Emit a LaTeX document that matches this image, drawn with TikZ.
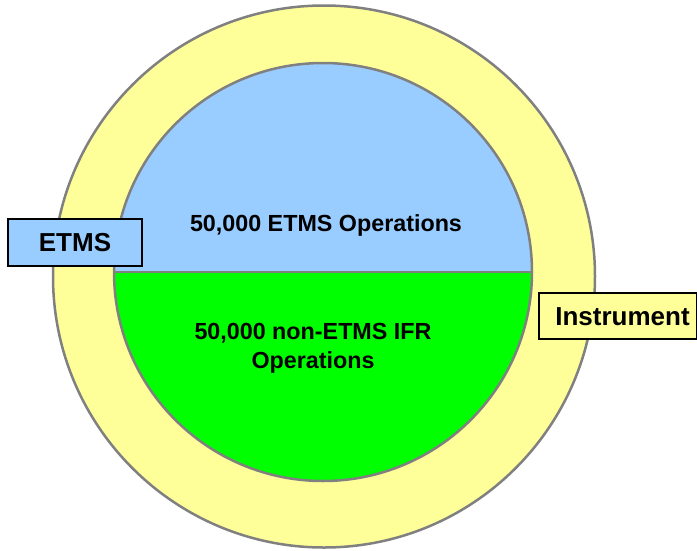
\documentclass[tikz,border=0pt]{standalone}
\usepackage{fontspec}
\setmainfont{Liberation Sans}
\definecolor{ringyellow}{HTML}{FFFF99}
\definecolor{etmsblue}{HTML}{99CCFF}
\definecolor{ifrgreen}{HTML}{00FF00}
\definecolor{rimgray}{HTML}{808080}
\tikzset{
  rim/.style={draw=rimgray, line width=2.5pt},
  label box/.style={draw=black, line width=1.2pt},
  inner text/.style={font=\fontsize{23.3}{29}\selectfont\bfseries, align=center, inner sep=0pt},
  box text/.style={font=\fontsize{26}{30}\selectfont\bfseries, inner sep=0pt},
}
\begin{document}
\begin{tikzpicture}[x=1pt, y=-1pt]
  \useasboundingbox (0,0) rectangle (697,550);
  % outer instrument ring
  \fill[ringyellow] (324,276.5) circle (271);
  \draw[rim] (324,276.5) circle (271);
  % inner disc split into ETMS and non-ETMS halves
  \fill[etmsblue] (114,272) arc[start angle=180, end angle=360, radius=209] -- cycle;
  \fill[ifrgreen] (114,272) arc[start angle=180, end angle=0, radius=209] -- cycle;
  \draw[rim] (114,272) -- (532,272);
  \draw[rim] (323,272) circle (209);
  % region texts
  \node[inner text] (etmsops) at (326,225) {50,000 ETMS Operations};
  \node[inner text] (ifrops) at (313,348) {50,000 non-ETMS IFR\\Operations};
  % side labels
  \fill[etmsblue] (8,219) rectangle (142,266);
  \draw[label box] (8,219) rectangle (142,266);
  \node[box text] (etmslabel) at (75,243) {ETMS};
  \fill[ringyellow] (539,293) rectangle (696.5,339);
  \draw[label box] (539,293) rectangle (696.5,339);
  \node[box text] (instrlabel) at (622.5,317) {Instrument};
\end{tikzpicture}
\end{document}
